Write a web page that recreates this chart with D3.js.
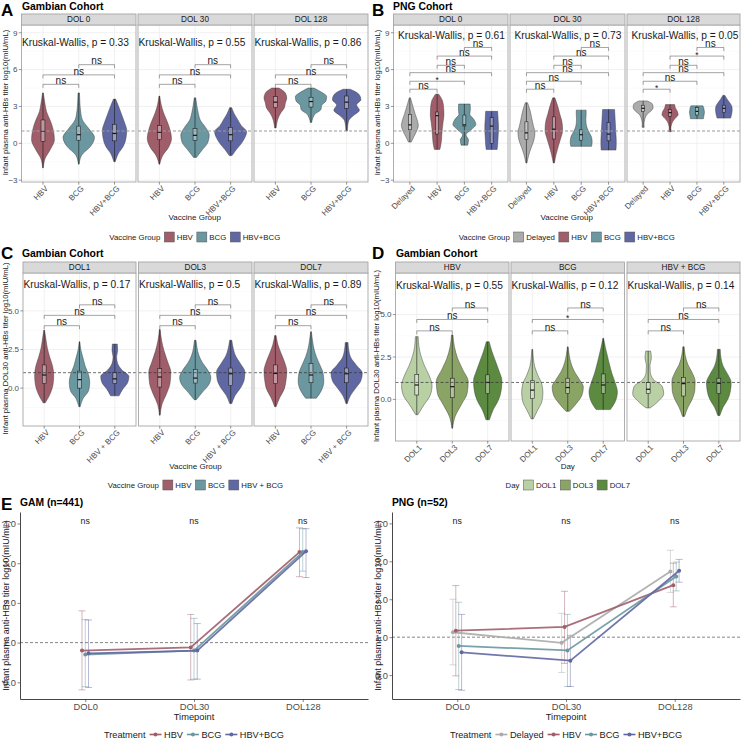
<!DOCTYPE html>
<html lang="en">
<head>
<meta charset="utf-8">
<script src="https://cdn.jsdelivr.net/npm/d3@7"></script>
<style>
  body { margin: 0; background: #fff; }
  svg text { font-family: "Liberation Sans", Arial, Helvetica, sans-serif; }
</style>
</head>
<body>
<svg id="fig" width="742" height="740"></svg>
<script>
// ---------- data ----------
const groupsA = ["HBV", "BCG", "HBV+BCG"];
const groupsB = ["Delayed", "HBV", "BCG", "HBV+BCG"];
const groupsC = ["HBV", "BCG", "HBV + BCG"];
const daysD = ["DOL1", "DOL3", "DOL7"];
const facetsAB = ["DOL 0", "DOL 30", "DOL 128"];
const facetsC = ["DOL1", "DOL3", "DOL7"];
const facetsD = ["HBV", "BCG", "HBV + BCG"];

const kwA = ["0.33", "0.55", "0.86"];
const kwB = ["0.61", "0.73", "0.05"];
const kwC = ["0.17", "0.5", "0.89"];
const kwD = ["0.55", "0.12", "0.14"];

const pairs3 = [[0, 1], [0, 2], [1, 2]];
const pairs4 = [[0, 1], [0, 2], [0, 3], [1, 2], [1, 3], [2, 3]];
const levelsA = [4.8, 5.57, 6.4];
const levelsB = [4.4, 5.05, 5.75, 6.35, 7.1, 7.8];
const levelsCD = [4.04, 4.71, 5.39];
const sigA = [["ns", "ns", "ns"], ["ns", "ns", "ns"], ["ns", "ns", "ns"]];
const sigB = [["ns", "*", "ns", "ns", "ns", "ns"],
              ["ns", "ns", "ns", "ns", "ns", "ns"],
              ["*", "ns", "ns", "ns", "*", "ns"]];
const sigC = [["ns", "ns", "ns"], ["ns", "ns", "ns"], ["ns", "ns", "ns"]];
const sigD = [["ns", "ns", "ns"], ["ns", "*", "ns"], ["ns", "ns", "ns"]];

const yTicksAB = [-3, 0, 3, 6, 9];
const yTicksCD = [0, 2.5, 5];

// violin: [min, max, q1, median, q3, half-widths (category units) from min to max]
const violinsA = [
  [[-2.0, 4.1, 0.16, 0.97, 1.9, [0.01, 0.06, 0.21, 0.32, 0.29, 0.21, 0.10, 0.05, 0.01]],
   [-1.7, 4.1, 0.25, 0.7, 1.4, [0.01, 0.08, 0.33, 0.44, 0.28, 0.10, 0.05, 0.03, 0.02]],
   [-1.5, 3.6, 0.2, 0.8, 1.55, [0.02, 0.10, 0.25, 0.32, 0.34, 0.28, 0.20, 0.12, 0.03]]],
  [[-1.7, 3.85, 0.3, 0.9, 1.45, [0.01, 0.09, 0.26, 0.34, 0.30, 0.22, 0.12, 0.05, 0.01]],
   [-1.15, 3.7, 0.25, 0.65, 1.2, [0.04, 0.20, 0.36, 0.40, 0.30, 0.15, 0.09, 0.05, 0.02]],
   [-1.0, 2.9, 0.2, 0.7, 1.3, [0.04, 0.16, 0.30, 0.40, 0.45, 0.30, 0.20, 0.10, 0.03]]],
  [[1.25, 4.5, 2.9, 3.35, 3.8, [0.02, 0.04, 0.08, 0.15, 0.25, 0.28, 0.32, 0.28, 0.10]],
   [1.7, 4.5, 2.95, 3.4, 3.75, [0.02, 0.05, 0.12, 0.28, 0.30, 0.42, 0.44, 0.30, 0.08]],
   [1.0, 4.4, 2.85, 3.35, 3.85, [0.02, 0.03, 0.06, 0.20, 0.36, 0.28, 0.40, 0.35, 0.10]]]
];
const violinsB = [
  [[0.1, 3.7, 1.1, 1.5, 2.35, [0.05, 0.15, 0.25, 0.31, 0.27, 0.20, 0.14, 0.08, 0.02]],
   [-0.5, 4.0, 0.75, 2.25, 2.55, [0.10, 0.15, 0.17, 0.19, 0.22, 0.25, 0.24, 0.20, 0.06]],
   [-0.15, 3.2, 1.4, 1.5, 2.3, [0.12, 0.15, 0.06, 0.25, 0.42, 0.35, 0.20, 0.22, 0.21]],
   [-0.5, 2.6, 0.0, 1.4, 2.1, [0.20, 0.22, 0.23, 0.24, 0.25, 0.25, 0.24, 0.23, 0.22]]],
  [[-1.6, 3.3, 0.3, 0.85, 1.75, [0.02, 0.08, 0.17, 0.27, 0.31, 0.25, 0.19, 0.13, 0.04]],
   [-1.6, 3.7, 0.35, 1.15, 2.15, [0.02, 0.08, 0.16, 0.25, 0.32, 0.30, 0.22, 0.14, 0.04]],
   [-0.25, 2.7, 0.25, 0.7, 1.1, [0.38, 0.40, 0.38, 0.30, 0.22, 0.18, 0.17, 0.18, 0.18]],
   [-0.55, 2.75, 0.2, 0.75, 1.7, [0.27, 0.28, 0.28, 0.27, 0.26, 0.25, 0.24, 0.23, 0.22]]],
  [[1.3, 3.45, 2.6, 2.85, 3.1, [0.04, 0.03, 0.05, 0.08, 0.15, 0.30, 0.37, 0.35, 0.15]],
   [0.95, 3.15, 2.2, 2.5, 2.75, [0.05, 0.03, 0.05, 0.10, 0.20, 0.30, 0.27, 0.20, 0.17]],
   [2.0, 3.05, 2.3, 2.6, 2.9, [0.24, 0.25, 0.26, 0.27, 0.28, 0.27, 0.26, 0.25, 0.22]],
   [2.05, 3.9, 2.5, 2.85, 3.1, [0.25, 0.28, 0.30, 0.31, 0.30, 0.25, 0.17, 0.10, 0.04]]]
];
const violinsC = [
  [[-0.95, 3.75, 0.3, 0.85, 1.5, [0.03, 0.17, 0.25, 0.27, 0.24, 0.16, 0.09, 0.05, 0.01]],
   [-1.2, 3.0, 0.0, 0.55, 1.1, [0.02, 0.10, 0.26, 0.29, 0.25, 0.16, 0.10, 0.04, 0.01]],
   [-0.5, 2.85, 0.3, 0.6, 1.0, [0.12, 0.22, 0.36, 0.40, 0.20, 0.08, 0.05, 0.08, 0.07]]],
  [[-1.75, 3.8, 0.07, 0.72, 1.26, [0.01, 0.06, 0.19, 0.29, 0.31, 0.22, 0.12, 0.05, 0.01]],
   [-0.75, 3.1, 0.33, 0.65, 1.22, [0.03, 0.20, 0.38, 0.44, 0.35, 0.20, 0.10, 0.05, 0.02]],
   [-1.0, 3.1, 0.17, 0.93, 1.3, [0.03, 0.12, 0.28, 0.38, 0.40, 0.28, 0.14, 0.07, 0.03]]],
  [[-1.2, 3.4, 0.3, 0.95, 1.5, [0.02, 0.12, 0.25, 0.30, 0.32, 0.26, 0.16, 0.07, 0.02]],
   [-0.65, 3.65, 0.35, 0.85, 1.6, [0.15, 0.30, 0.36, 0.34, 0.25, 0.15, 0.08, 0.04, 0.01]],
   [-1.0, 2.95, 0.35, 0.93, 1.3, [0.02, 0.10, 0.25, 0.40, 0.44, 0.28, 0.12, 0.06, 0.04]]]
];
const violinsD = [
  [[-0.9, 3.7, 0.26, 0.85, 1.48, [0.03, 0.20, 0.38, 0.43, 0.35, 0.22, 0.12, 0.06, 0.04]],
   [-1.7, 3.8, 0.1, 0.75, 1.25, [0.01, 0.08, 0.25, 0.42, 0.45, 0.30, 0.15, 0.06, 0.02]],
   [-1.2, 3.4, 0.35, 1.0, 1.45, [0.05, 0.15, 0.30, 0.38, 0.40, 0.32, 0.22, 0.12, 0.04]]],
  [[-1.15, 2.95, 0.05, 0.55, 1.1, [0.03, 0.15, 0.27, 0.30, 0.27, 0.16, 0.07, 0.03, 0.01]],
   [-0.7, 3.1, 0.35, 0.7, 1.25, [0.05, 0.25, 0.40, 0.44, 0.32, 0.18, 0.09, 0.04, 0.01]],
   [-0.6, 3.6, 0.35, 0.85, 1.5, [0.20, 0.35, 0.40, 0.34, 0.25, 0.18, 0.12, 0.06, 0.01]]],
  [[-0.5, 2.85, 0.35, 0.6, 1.0, [0.06, 0.30, 0.44, 0.40, 0.15, 0.06, 0.05, 0.09, 0.07]],
   [-1.0, 3.1, 0.2, 0.93, 1.3, [0.03, 0.12, 0.25, 0.32, 0.33, 0.25, 0.12, 0.05, 0.02]],
   [-0.95, 2.95, 0.35, 0.95, 1.25, [0.03, 0.12, 0.26, 0.33, 0.35, 0.25, 0.12, 0.06, 0.04]]]
];

// panel E: means and error-bar ends per group, per timepoint
const timepoints = ["DOL0", "DOL30", "DOL128"];
const sigE = ["ns", "ns", "ns"];
const gamGroups = ["HBV", "BCG", "HBV+BCG"];
const gamMean = [[0.80, 0.88, 3.28], [0.70, 0.80, 3.28], [0.73, 0.80, 3.30]];
const gamLo = [[-0.19, 0.06, 2.66], [-0.11, 0.08, 2.80], [-0.13, 0.08, 2.64]];
const gamHi = [[1.80, 1.71, 3.89], [1.58, 1.61, 3.87], [1.57, 1.48, 3.87]];
const pngGroups = ["Delayed", "HBV", "BCG", "HBV+BCG"];
const pngMean = [[1.13, 0.85, 2.73], [1.17, 1.27, 2.37], [0.77, 0.65, 2.60], [0.60, 0.38, 2.75]];
const pngLo = [[0.27, 0.07, 2.18], [-0.02, 0.31, 1.80], [-0.38, -0.30, 2.22], [-0.40, -0.30, 2.45]];
const pngHi = [[2.00, 1.63, 3.29], [2.36, 2.21, 2.95], [1.92, 1.60, 2.98], [1.60, 1.05, 3.05]];

// ---------- colours ----------
const cHBV = "#A05E6B", cBCG = "#6A97A0", cCombo = "#6068A3", cDel = "#ABABAB";
const cGreens = ["#B8D0A4", "#8AA466", "#5C8A41"];

const svg = d3.select("#fig");
const TXT = "#1a1a1a", TICK = "#4d4d4d";

function label(x, y, s, size, opts = {}) {
  return svg.append("text").attr("x", x).attr("y", y)
    .attr("font-size", size).attr("fill", opts.fill || TXT)
    .attr("font-weight", opts.bold ? "bold" : null)
    .attr("text-anchor", opts.anchor || "start")
    .text(s);
}

function legend(cx, cy, title, labels, colors, kind, fs) {
  const g = svg.append("g");
  let xx = 0;
  const t = g.append("text").attr("x", 0).attr("y", cy).attr("dy", "0.35em")
    .attr("font-size", fs).attr("fill", TXT).text(title);
  xx += t.node().getComputedTextLength() + 4;
  labels.forEach((lab, i) => {
    if (kind === "box") {
      g.append("rect").attr("x", xx).attr("y", cy - 5).attr("width", 10).attr("height", 10)
        .attr("fill", colors[i]).attr("stroke", "#555").attr("stroke-width", 0.5);
      xx += 10;
    } else {
      g.append("line").attr("x1", xx).attr("x2", xx + 12).attr("y1", cy).attr("y2", cy)
        .attr("stroke", colors[i]).attr("stroke-width", 1.6);
      g.append("circle").attr("cx", xx + 6).attr("cy", cy).attr("r", 2).attr("fill", colors[i]);
      xx += 12;
    }
    xx += 2.5;
    const lt = g.append("text").attr("x", xx).attr("y", cy).attr("dy", "0.35em")
      .attr("font-size", fs).attr("fill", TXT).text(lab);
    xx += lt.node().getComputedTextLength() + 4;
  });
  g.attr("transform", `translate(${cx - (xx - 4) / 2},0)`);
}

function violinPanel(o) {
  const y = d3.scaleLinear().domain(o.yDomain).range([o.bottom, o.plotTop]);
  const kwSize = 10.2;
  o.facets.forEach((fx, f) => {
    const [x0, x1] = fx;
    const x = d3.scalePoint().domain(o.groups).range([x0, x1]).padding(0.6);
    const step = x.step();
    const g = svg.append("g");
    g.append("rect").attr("x", x0).attr("y", o.plotTop).attr("width", x1 - x0)
      .attr("height", o.bottom - o.plotTop).attr("fill", "#fff");
    g.selectAll(".mn").data(o.minor).join("line")
      .attr("x1", x0).attr("x2", x1).attr("y1", d => y(d)).attr("y2", d => y(d))
      .attr("stroke", "#f2f2f2").attr("stroke-width", 0.4);
    g.selectAll(".mj").data(o.ticks).join("line")
      .attr("x1", x0).attr("x2", x1).attr("y1", d => y(d)).attr("y2", d => y(d))
      .attr("stroke", "#ebebeb").attr("stroke-width", 0.7);
    g.selectAll(".vg").data(o.groups).join("line")
      .attr("x1", d => x(d)).attr("x2", d => x(d)).attr("y1", o.plotTop).attr("y2", o.bottom)
      .attr("stroke", "#ebebeb").attr("stroke-width", 0.7);

    o.violins[f].forEach((v, i) => {
      const [lo, hi, q1, med, q3, w] = v;
      const cx = x(o.groups[i]);
      const pts = w.map((hw, k) => [lo + k * (hi - lo) / (w.length - 1), hw]);
      const area = d3.area().curve(d3.curveMonotoneY)
        .y(d => y(d[0])).x0(d => cx - d[1] * step).x1(d => cx + d[1] * step);
      g.append("path").attr("d", area(pts)).attr("fill", o.colors[i])
        .attr("stroke", "#3a3a3a").attr("stroke-width", 0.45);
      const bw = 0.055 * step;
      g.append("line").attr("x1", cx).attr("x2", cx).attr("y1", y(lo)).attr("y2", y(q1))
        .attr("stroke", "#1a1a1a").attr("stroke-width", 0.6);
      g.append("line").attr("x1", cx).attr("x2", cx).attr("y1", y(q3)).attr("y2", y(hi))
        .attr("stroke", "#1a1a1a").attr("stroke-width", 0.6);
      g.append("rect").attr("x", cx - bw).attr("width", 2 * bw)
        .attr("y", y(q3)).attr("height", y(q1) - y(q3))
        .attr("fill", "#fff").attr("fill-opacity", 0.35)
        .attr("stroke", "#1a1a1a").attr("stroke-width", 0.55);
      g.append("line").attr("x1", cx - bw).attr("x2", cx + bw).attr("y1", y(med)).attr("y2", y(med))
        .attr("stroke", "#111").attr("stroke-width", 1.2);
    });

    g.append("line").attr("x1", x0).attr("x2", x1).attr("y1", y(1)).attr("y2", y(1))
      .attr("stroke", o.refColor).attr("stroke-width", o.refWidth).attr("stroke-dasharray", "3,2");

    o.pairs.forEach((p, k) => {
      const xa = x(o.groups[p[0]]), xb = x(o.groups[p[1]]), yy = y(o.levels[k]);
      g.append("path").attr("d", `M${xa},${yy + 3.5}V${yy}H${xb}V${yy + 3.5}`)
        .attr("fill", "none").attr("stroke", "#666").attr("stroke-width", 0.6);
      const s = o.sig[f][k];
      g.append("text").attr("x", (xa + xb) / 2).attr("y", s === "*" ? yy + 1.5 : yy - 0.3)
        .attr("text-anchor", "middle").attr("font-size", s === "*" ? 8.5 : 10)
        .attr("fill", TXT).text(s);
    });

    g.append("text").attr("x", x0 + o.kwDx).attr("y", y(o.kwY)).attr("dy", "0.35em")
      .attr("font-size", kwSize).attr("fill", TXT)
      .text("Kruskal-Wallis, p = " + o.kw[f]);

    g.append("rect").attr("x", x0).attr("y", o.plotTop).attr("width", x1 - x0)
      .attr("height", o.bottom - o.plotTop).attr("fill", "none")
      .attr("stroke", "#a6a6a6").attr("stroke-width", 0.9);
    g.append("rect").attr("x", x0).attr("y", o.stripTop).attr("width", x1 - x0)
      .attr("height", o.plotTop - o.stripTop).attr("fill", "#d9d9d9")
      .attr("stroke", "#a6a6a6").attr("stroke-width", 0.9);
    g.append("text").attr("x", (x0 + x1) / 2).attr("y", (o.stripTop + o.plotTop) / 2)
      .attr("dy", "0.36em").attr("text-anchor", "middle").attr("font-size", 8.2)
      .attr("fill", TXT).text(o.facetNames[f]);

    o.groups.forEach(gr => {
      const cx = x(gr);
      g.append("line").attr("x1", cx).attr("x2", cx).attr("y1", o.bottom).attr("y2", o.bottom + 2.7)
        .attr("stroke", "#333").attr("stroke-width", 0.5);
      g.append("text").attr("transform", `translate(${cx + 1.5},${o.bottom + 3}) rotate(-45)`)
        .attr("text-anchor", "end").attr("dy", "0.72em").attr("font-size", 8)
        .attr("fill", TICK).text(gr);
    });

    if (f === 0) {
      o.ticks.forEach(t => {
        g.append("line").attr("x1", x0 - 2.7).attr("x2", x0).attr("y1", y(t)).attr("y2", y(t))
          .attr("stroke", "#333").attr("stroke-width", 0.5);
        g.append("text").attr("x", x0 - 4).attr("y", y(t)).attr("dy", "0.35em")
          .attr("text-anchor", "end").attr("font-size", 8).attr("fill", TICK)
          .text(o.tickFmt(t));
      });
    }
  });

  const left = o.facets[0][0], right = o.facets[o.facets.length - 1][1];
  svg.append("text")
    .attr("transform", `translate(${o.yTitleX},${(o.plotTop + o.bottom) / 2 - 1}) rotate(-90)`)
    .attr("text-anchor", "middle").attr("font-size", 7.7).attr("fill", TXT).text(o.yTitle);
  label((left + right) / 2, o.xTitleY, o.xTitle, 8, { anchor: "middle" });
  label(o.letterX, o.letterY, o.letter, 17, { bold: true, fill: "#000" });
  label(o.titleX, o.titleY, o.title, 10.4, { bold: true, fill: "#000" });
  legend((left + right) / 2, o.legendY, o.legendTitle, o.legendLabels, o.colors, "box", 7.8);
}

function linePanel(o) {
  const x = d3.scalePoint().domain(timepoints).range([o.x0, o.x1]).padding(0.6);
  const y = d3.scaleLinear().domain(o.yDomain).range([o.bottom, o.top]);
  const g = svg.append("g");
  const n = o.groups.length;
  const off = o.groups.map((_, i) => (i - (n - 1) / 2) * o.dodge / (n - 1) * x.step());

  g.append("line").attr("x1", o.x0).attr("x2", o.x1).attr("y1", y(1)).attr("y2", y(1))
    .attr("stroke", "#333").attr("stroke-width", 0.6).attr("stroke-dasharray", "3,2");

  o.groups.forEach((gr, i) => {
    const col = o.colors[i];
    timepoints.forEach((tp, t) => {
      const cx = x(tp) + off[i];
      const a = y(o.lo[i][t]), b = y(o.hi[i][t]);
      g.append("path").attr("d", `M${cx - 3.5},${a}H${cx + 3.5}M${cx},${a}V${b}M${cx - 3.5},${b}H${cx + 3.5}`)
        .attr("fill", "none").attr("stroke", col).attr("stroke-width", 1)
        .attr("stroke-opacity", 0.45);
    });
  });
  o.groups.forEach((gr, i) => {
    const col = o.colors[i];
    const line = d3.line().x((d, t) => x(timepoints[t]) + off[i]).y(d => y(d));
    g.append("path").attr("d", line(o.mean[i])).attr("fill", "none")
      .attr("stroke", col).attr("stroke-width", 1.8).attr("stroke-opacity", 0.9);
    o.mean[i].forEach((m, t) => {
      g.append("circle").attr("cx", x(timepoints[t]) + off[i]).attr("cy", y(m)).attr("r", 2)
        .attr("fill", col);
    });
  });

  sigE.forEach((s, t) => {
    g.append("text").attr("x", x(timepoints[t])).attr("y", y(4.07)).attr("dy", "0.35em")
      .attr("text-anchor", "middle").attr("font-size", 8.8).attr("fill", TXT).text(s);
  });

  const ya = g.append("g").attr("transform", `translate(${o.x0},0)`)
    .call(d3.axisLeft(y).tickValues([0, 1, 2, 3, 4]).tickSize(2.5).tickSizeOuter(0).tickPadding(1.5));
  const xa = g.append("g").attr("transform", `translate(0,${o.bottom})`)
    .call(d3.axisBottom(x).tickSize(3).tickSizeOuter(0).tickPadding(1));
  [ya, xa].forEach(a => {
    a.select(".domain").attr("stroke", "#333").attr("stroke-width", 0.9);
    a.selectAll(".tick line").attr("stroke", "#333").attr("stroke-width", 0.6);
    a.selectAll(".tick text").attr("font-size", 9.3).attr("fill", TICK)
      .attr("font-family", "Liberation Sans, Arial, sans-serif");
  });

  svg.append("text")
    .attr("transform", `translate(${o.yTitleX},${(o.top + o.bottom) / 2}) rotate(-90)`)
    .attr("text-anchor", "middle").attr("font-size", 9).attr("fill", TXT)
    .text("Infant plasma anti-HBs titer log10(mIU/mL)");
  label((o.x0 + o.x1) / 2, 720, "Timepoint", 9.3, { anchor: "middle" });
  if (o.letter) label(1, 510, o.letter, 17, { bold: true, fill: "#000" });
  label(o.x0, 506, o.title, 10.3, { bold: true, fill: "#000" });
  legend((o.x0 + o.x1) / 2, 734.5, "Treatment", o.groups, o.colors, "line", 9.2);
}

// ---------- panels ----------
const yTitleAB = "Infant plasma anti-HBs titer log10(mIU/mL)";
const yTitleCD = "Infant plasma DOL30 anti-HBs titer log10(mIU/mL)";
const fmtInt = d3.format("d");
const fmt1 = d3.format(".1f");

violinPanel({
  letter: "A", letterX: 1, letterY: 15.5, title: "Gambian Cohort", titleX: 22, titleY: 9.5,
  stripTop: 14, plotTop: 25, bottom: 182,
  facets: [[21.5, 136], [138, 252], [254, 368]], facetNames: facetsAB,
  groups: groupsA, colors: [cHBV, cBCG, cCombo], violins: violinsA,
  yDomain: [-3.15, 9.63], ticks: yTicksAB, minor: [-1.5, 1.5, 4.5, 7.5], tickFmt: fmtInt,
  pairs: pairs3, levels: levelsA, sig: sigA, kw: kwA, kwY: 8.18, kwDx: 0.5,
  refColor: "#9a9a9a", refWidth: 1.1,
  yTitle: yTitleAB, yTitleX: 8, xTitle: "Vaccine Group", xTitleY: 220,
  legendTitle: "Vaccine Group", legendLabels: groupsA, legendY: 237
});

violinPanel({
  letter: "B", letterX: 372, letterY: 15.5, title: "PNG Cohort", titleX: 393, titleY: 9.5,
  stripTop: 14, plotTop: 25, bottom: 182,
  facets: [[393.5, 508], [510, 625], [627, 740]], facetNames: facetsAB,
  groups: groupsB, colors: [cDel, cHBV, cBCG, cCombo], violins: violinsB,
  yDomain: [-3.15, 9.63], ticks: yTicksAB, minor: [-1.5, 1.5, 4.5, 7.5], tickFmt: fmtInt,
  pairs: pairs4, levels: levelsB, sig: sigB, kw: kwB, kwY: 8.78, kwDx: 4.5,
  refColor: "#9a9a9a", refWidth: 1.1,
  yTitle: yTitleAB, yTitleX: 379.5, xTitle: "Vaccine Group", xTitleY: 220,
  legendTitle: "Vaccine Group", legendLabels: groupsB, legendY: 237
});

violinPanel({
  letter: "C", letterX: 1, letterY: 259, title: "Gambian Cohort", titleX: 22, titleY: 257,
  stripTop: 262, plotTop: 273, bottom: 426,
  facets: [[23, 136], [138.5, 252], [254, 368]], facetNames: facetsC,
  groups: groupsC, colors: [cHBV, cBCG, cCombo], violins: violinsC,
  yDomain: [-2.45, 7.45], ticks: yTicksCD, minor: [-1.25, 1.25, 3.75, 6.25], tickFmt: fmt1,
  pairs: pairs3, levels: levelsCD, sig: sigC, kw: kwC, kwY: 6.72, kwDx: 0.5,
  refColor: "#333", refWidth: 0.7,
  yTitle: yTitleCD, yTitleX: 8, xTitle: "Vaccine Group", xTitleY: 469,
  legendTitle: "Vaccine Group", legendLabels: groupsC, legendY: 485
});

violinPanel({
  letter: "D", letterX: 372, letterY: 259, title: "Gambian Cohort", titleX: 396, titleY: 257,
  stripTop: 262, plotTop: 273, bottom: 441,
  facets: [[395.5, 509], [511, 624.5], [627, 740]], facetNames: facetsD,
  groups: daysD, colors: cGreens, violins: violinsD,
  yDomain: [-2.45, 7.45], ticks: yTicksCD, minor: [-1.25, 1.25, 3.75, 6.25], tickFmt: fmt1,
  pairs: pairs3, levels: levelsCD, sig: sigD, kw: kwD, kwY: 6.72, kwDx: 0.5,
  refColor: "#333", refWidth: 0.7,
  yTitle: yTitleCD, yTitleX: 379, xTitle: "Day", xTitleY: 469,
  legendTitle: "Day", legendLabels: daysD, legendY: 485
});

linePanel({
  letter: "E", title: "GAM (n=441)", x0: 20, x1: 368, top: 512, bottom: 699,
  yDomain: [-0.42, 4.29], groups: gamGroups, colors: [cHBV, cBCG, cCombo],
  mean: gamMean, lo: gamLo, hi: gamHi, dodge: 0.06, yTitleX: 9
});

linePanel({
  letter: null, title: "PNG (n=52)", x0: 392, x1: 740, top: 512, bottom: 699,
  yDomain: [-0.63, 4.30], groups: pngGroups, colors: [cDel, cHBV, cBCG, cCombo],
  mean: pngMean, lo: pngLo, hi: pngHi, dodge: 0.08, yTitleX: 380.5
});
</script>
</body>
</html>
